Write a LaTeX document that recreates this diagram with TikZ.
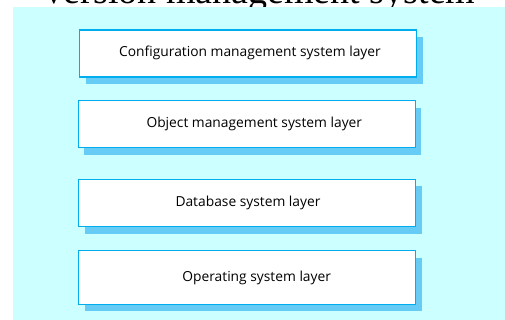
\documentclass[tikz,border=0pt]{standalone}
\usepackage{fontspec}
\setmainfont{Open Sans}
\newfontfamily\titlefont{Liberation Serif}
\usetikzlibrary{shadows}

\definecolor{bgcyan}{RGB}{204,255,255}
\definecolor{edgeblue}{RGB}{0,174,239}
\definecolor{shadowblue}{RGB}{102,204,245}

\tikzset{
	layer/.style={draw=edgeblue, line width=1.5pt, fill=white, inner sep=0pt,
		minimum width=337pt, minimum height=47pt,
		drop shadow={shadow xshift=6pt, shadow yshift=-7pt, fill=shadowblue, opacity=1}},
	layertext/.style={font=\fontsize{13.8}{16}\selectfont, text=black}
}

\begin{document}
\begin{tikzpicture}[x=1pt, y=-1pt]
			\clip (0,0) rectangle (505,320);
			\node[anchor=base, font=\titlefont\fontsize{38}{40}\selectfont] (title) at (258,3.5){Version management system};
			\fill[bgcyan] (13.3,7) rectangle (505,320);
			
			\node[layer] (cms) at (248,53.3){};
			\node[layer] (oms) at (246.8,124.2){};
			\node[layer] (db) at (247,203){};
			\node[layer, minimum height=53.6pt] (os) at (247.2,277.5){};
			
			\node[layertext] at ([xshift=2pt]cms.center){Configuration management system layer};
			\node[layertext] at ([xshift=7.5pt]oms.center){Object management system layer};
			\node[layertext] at ([xshift=1pt]db.center){Database system layer};
			\node[layertext] at ([xshift=9.5pt]os.center){Operating system layer};
		\end{tikzpicture}
\end{document}
